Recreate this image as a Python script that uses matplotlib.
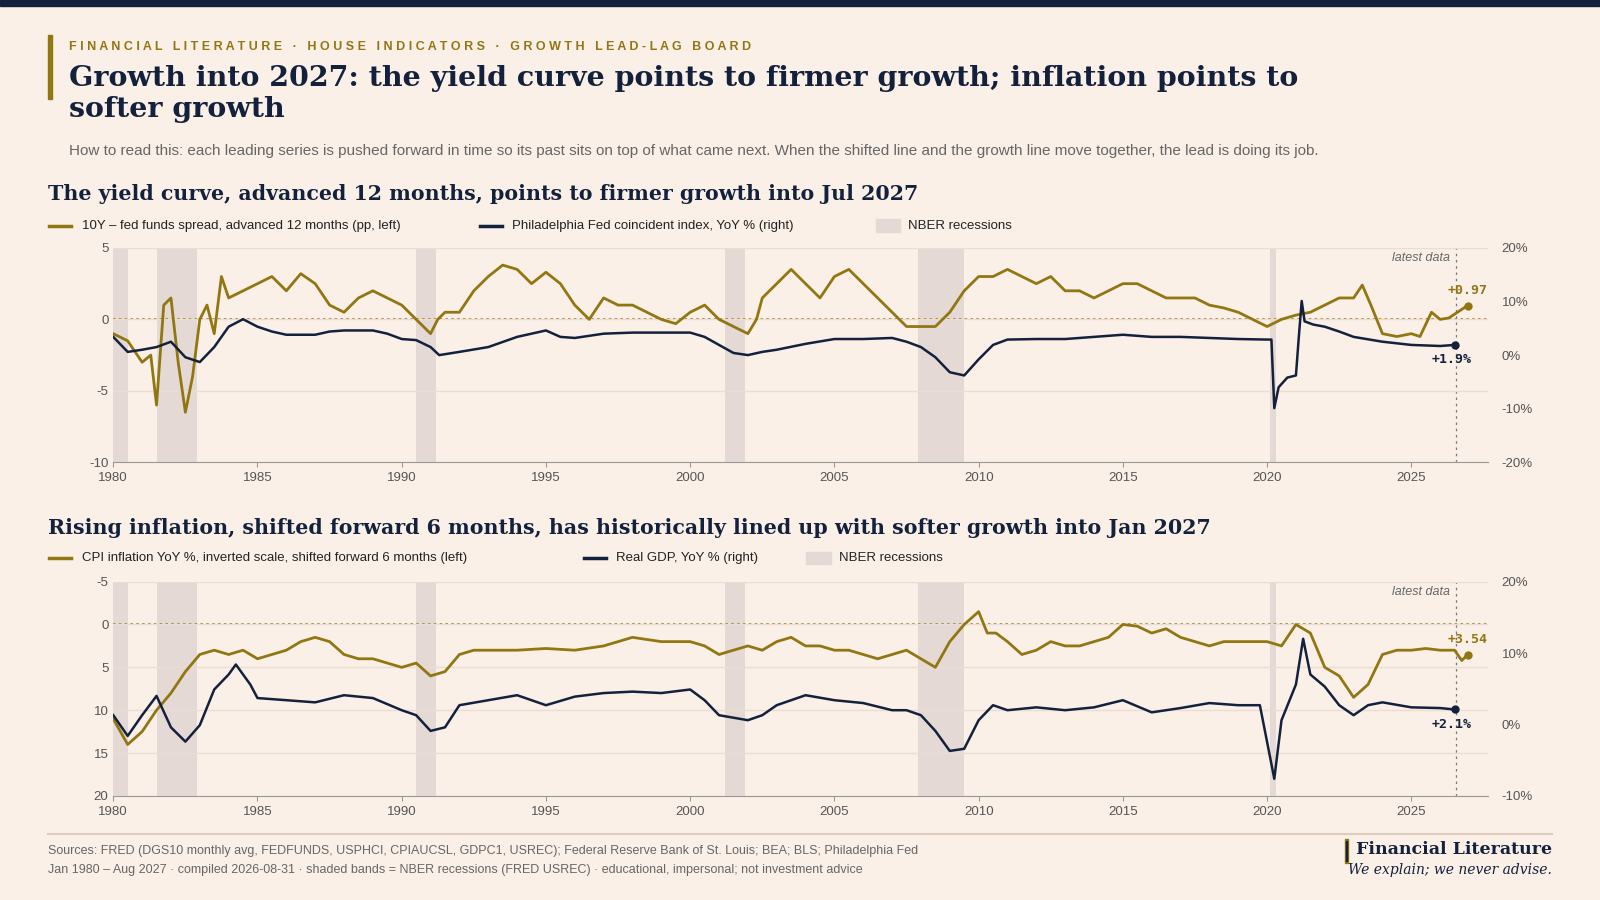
import matplotlib.pyplot as plt
from matplotlib.lines import Line2D
from matplotlib.patches import Rectangle

BG = "#faf0e8"
GOLD = "#927611"
NAVY = "#14213d"
GREY = "#555555"
REC = "#e4d9d4"

recessions = [(1980.0, 1980.5), (1981.5, 1982.9), (1990.5, 1991.2),
              (2001.2, 2001.9), (2007.9, 2009.5), (2020.1, 2020.3)]
latest = 2026.55

# top panel: 10Y - fed funds spread, advanced 12 months (pp)
spread_x = [1980, 1980.5, 1981, 1981.3, 1981.5, 1981.75, 1982, 1982.25, 1982.5, 1982.75,
            1983, 1983.25, 1983.5, 1983.75, 1984, 1984.5, 1985, 1985.5, 1986, 1986.5,
            1987, 1987.5, 1988, 1988.5, 1989, 1989.5, 1990, 1990.5, 1991, 1991.25,
            1991.5, 1992, 1992.5, 1993, 1993.5, 1994, 1994.5, 1995, 1995.5, 1996,
            1996.5, 1997, 1997.5, 1998, 1998.5, 1999, 1999.5, 2000, 2000.5, 2001,
            2001.5, 2002, 2002.3, 2002.5, 2003, 2003.5, 2004, 2004.5, 2005, 2005.5,
            2006, 2006.5, 2007, 2007.5, 2008, 2008.5, 2009, 2009.5, 2010, 2010.5,
            2011, 2011.5, 2012, 2012.5, 2013, 2013.5, 2014, 2014.5, 2015, 2015.5,
            2016, 2016.5, 2017, 2017.5, 2018, 2018.5, 2019, 2019.5, 2020, 2020.5,
            2021, 2021.5, 2022, 2022.5, 2023, 2023.3, 2023.6, 2024, 2024.5, 2025,
            2025.3, 2025.7, 2026, 2026.3, 2026.6, 2026.95]
spread = [-1.0, -1.5, -3.0, -2.5, -6.0, 1.0, 1.5, -3.0, -6.5, -4.0,
          0.0, 1.0, -1.0, 3.0, 1.5, 2.0, 2.5, 3.0, 2.0, 3.2,
          2.5, 1.0, 0.5, 1.5, 2.0, 1.5, 1.0, 0.0, -1.0, 0.0,
          0.5, 0.5, 2.0, 3.0, 3.8, 3.5, 2.5, 3.3, 2.5, 1.0,
          0.0, 1.5, 1.0, 1.0, 0.5, 0.0, -0.3, 0.5, 1.0, 0.0,
          -0.5, -1.0, 0.0, 1.5, 2.5, 3.5, 2.5, 1.5, 3.0, 3.5,
          2.5, 1.5, 0.5, -0.5, -0.5, -0.5, 0.5, 2.0, 3.0, 3.0,
          3.5, 3.0, 2.5, 3.0, 2.0, 2.0, 1.5, 2.0, 2.5, 2.5,
          2.0, 1.5, 1.5, 1.5, 1.0, 0.8, 0.5, 0.0, -0.5, 0.0,
          0.3, 0.5, 1.0, 1.5, 1.5, 2.4, 1.0, -1.0, -1.2, -1.0,
          -1.2, 0.5, 0.0, 0.1, 0.5, 0.97]

# top panel: Philadelphia Fed coincident index, YoY %
philly_x = [1980, 1980.5, 1981, 1981.5, 1982, 1982.5, 1983, 1983.5, 1984, 1984.5,
            1985, 1985.5, 1986, 1987, 1987.5, 1988, 1989, 1989.5, 1990, 1990.5,
            1991, 1991.3, 1992, 1993, 1994, 1995, 1995.5, 1996, 1997, 1998,
            1999, 2000, 2000.5, 2001, 2001.5, 2002, 2002.5, 2003, 2004, 2005,
            2006, 2007, 2007.5, 2008, 2008.5, 2009, 2009.5, 2010, 2010.5, 2011,
            2012, 2013, 2014, 2015, 2016, 2017, 2018, 2019, 2020, 2020.15,
            2020.25, 2020.4, 2020.7, 2021, 2021.1, 2021.2, 2021.3, 2021.6, 2022, 2022.5,
            2023, 2024, 2025, 2026, 2026.5]
philly = [3.4, 0.6, 1.0, 1.5, 2.5, -0.4, -1.3, 1.5, 5.3, 6.7,
          5.3, 4.4, 3.8, 3.8, 4.4, 4.6, 4.6, 4.0, 3.0, 2.8,
          1.5, 0.0, 0.6, 1.5, 3.4, 4.6, 3.4, 3.2, 4.0, 4.2,
          4.2, 4.2, 3.4, 1.9, 0.4, 0.0, 0.6, 1.0, 2.1, 3.0,
          3.0, 3.2, 2.5, 1.5, -0.4, -3.2, -3.8, -0.8, 1.9, 2.9,
          3.0, 3.0, 3.4, 3.8, 3.4, 3.4, 3.2, 3.0, 2.9, 2.9,
          -9.9, -6.0, -4.2, -3.8, 3.4, 10.1, 6.3, 5.7, 5.3, 4.4,
          3.4, 2.5, 1.9, 1.7, 1.9]

# bottom panel: CPI inflation YoY %, shifted forward 6 months
cpi_x = [1980, 1980.5, 1981, 1981.5, 1982, 1982.5, 1983, 1983.5, 1984, 1984.5,
         1985, 1985.5, 1986, 1986.5, 1987, 1987.5, 1988, 1988.5, 1989, 1989.5,
         1990, 1990.5, 1991, 1991.5, 1992, 1992.5, 1993, 1994, 1995, 1996,
         1997, 1998, 1999, 2000, 2000.5, 2001, 2001.5, 2002, 2002.5, 2003,
         2003.5, 2004, 2004.5, 2005, 2005.5, 2006, 2006.5, 2007, 2007.5, 2008,
         2008.5, 2009, 2009.5, 2010, 2010.3, 2010.6, 2011, 2011.5, 2012, 2012.5,
         2013, 2013.5, 2014, 2014.5, 2015, 2015.5, 2016, 2016.5, 2017, 2017.5,
         2018, 2018.5, 2019, 2019.5, 2020, 2020.5, 2021, 2021.5, 2022, 2022.5,
         2023, 2023.5, 2024, 2024.5, 2025, 2025.5, 2026, 2026.5, 2026.75, 2026.95]
cpi = [11.0, 14.0, 12.5, 10.0, 8.0, 5.5, 3.5, 3.0, 3.5, 3.0,
       4.0, 3.5, 3.0, 2.0, 1.5, 2.0, 3.5, 4.0, 4.0, 4.5,
       5.0, 4.5, 6.0, 5.5, 3.5, 3.0, 3.0, 3.0, 2.8, 3.0,
       2.5, 1.5, 2.0, 2.0, 2.5, 3.5, 3.0, 2.5, 3.0, 2.0,
       1.5, 2.5, 2.5, 3.0, 3.0, 3.5, 4.0, 3.5, 3.0, 4.0,
       5.0, 2.0, 0.0, -1.5, 1.0, 1.0, 2.0, 3.5, 3.0, 2.0,
       2.5, 2.5, 2.0, 1.5, 0.0, 0.2, 1.0, 0.5, 1.5, 2.0,
       2.5, 2.0, 2.0, 2.0, 2.0, 2.5, 0.0, 1.0, 5.0, 6.0,
       8.5, 7.0, 3.5, 3.0, 3.0, 2.8, 3.0, 3.0, 4.2, 3.54]

# bottom panel: real GDP, YoY %
gdp_x = [1980, 1980.5, 1981, 1981.5, 1982, 1982.5, 1983, 1983.5, 1984, 1984.25,
         1984.75, 1985, 1986, 1987, 1988, 1989, 1990, 1990.5, 1991, 1991.5,
         1992, 1993, 1994, 1995, 1996, 1997, 1998, 1999, 2000, 2000.5,
         2001, 2002, 2002.5, 2003, 2004, 2005, 2006, 2007, 2007.5, 2008,
         2008.5, 2009, 2009.5, 2010, 2010.5, 2011, 2012, 2013, 2014, 2015,
         2016, 2017, 2018, 2019, 2019.75, 2020.25, 2020.5, 2021, 2021.25, 2021.5,
         2022, 2022.5, 2023, 2023.5, 2024, 2025, 2026, 2026.5]
gdp = [1.3, -1.6, 1.3, 4.0, -0.4, -2.4, -0.1, 4.9, 7.0, 8.4,
       5.6, 3.7, 3.4, 3.1, 4.1, 3.7, 2.0, 1.3, -0.9, -0.4,
       2.7, 3.4, 4.1, 2.7, 3.9, 4.4, 4.6, 4.4, 4.9, 3.4,
       1.3, 0.6, 1.3, 2.7, 4.1, 3.4, 3.0, 2.0, 2.0, 1.3,
       -0.9, -3.7, -3.4, 0.6, 2.7, 2.0, 2.4, 2.0, 2.4, 3.4,
       1.7, 2.3, 3.0, 2.7, 2.7, -7.6, 0.6, 5.6, 12.0, 7.0,
       5.3, 2.7, 1.3, 2.7, 3.1, 2.4, 2.3, 2.1]

years = [1980, 1985, 1990, 1995, 2000, 2005, 2010, 2015, 2020, 2025]

plt.rcParams["font.family"] = ["Liberation Sans", "DejaVu Sans"]
fig = plt.figure(figsize=(16, 9), dpi=100, facecolor=BG)
W, H = 1568, 882


def fx(px):
    return px / W


def fy(py):
    return 1 - py / H


fig.add_artist(Rectangle((0, fy(6)), 1, 6 / H, transform=fig.transFigure, color=NAVY))
fig.add_artist(Rectangle((fx(47), fy(97)), 4 / W, 63 / H, transform=fig.transFigure, color=GOLD))
fig.text(fx(68), fy(46), "F I N A N C I A L   L I T E R A T U R E   ·   H O U S E   I N D I C A T O R S   ·   "
         "G R O W T H   L E A D - L A G   B O A R D",
         color=GOLD, fontsize=9, fontweight="bold", va="center")
fig.text(fx(68), fy(92), "Growth into 2027: the yield curve points to firmer growth; inflation points to\nsofter growth",
         color=NAVY, fontsize=20.5, fontweight="bold", family="DejaVu Serif", va="center",
         linespacing=1.2)
fig.text(fx(68), fy(148), "How to read this: each leading series is pushed forward in time so its past sits on top of "
         "what came next. When the shifted line and the growth line move together, the lead is doing its job.",
         color="#666666", fontsize=11, va="center")


def legend(y, items):
    for kind, x0, label in items:
        if kind == "patch":
            fig.add_artist(Rectangle((fx(x0), fy(y + 6)), 24 / W, 12 / H,
                                     transform=fig.transFigure, color=REC))
        else:
            fig.add_artist(Line2D([fx(x0), fx(x0 + 22)], [fy(y), fy(y)],
                                  transform=fig.transFigure, color=kind, lw=2.5))
        fig.text(fx(x0 + 32), fy(y), label, fontsize=9.5, color="#222222", va="center")


def panel(top, bottom, title, ty, ly, leg, lx, ly_data, rx, ry_data, lylim, rylim, lticks,
          lticklabels, rticks, rticklabels, inverted, llab, rlab):
    fig.text(fx(47), fy(ty), title, color=NAVY, fontsize=14.8, fontweight="bold",
             family="DejaVu Serif", va="center")
    legend(ly, leg)
    ax = fig.add_axes([fx(111), fy(bottom), fx(1458) - fx(111), fy(top) - fy(bottom)])
    ax.set_facecolor(BG)
    for a, b in recessions:
        ax.axvspan(a, b, color=REC, lw=0, zorder=0)
    ax.set_xlim(1980, 2027.65)
    ax.set_ylim(*lylim)
    ax.set_yticks(lticks)
    ax.set_yticklabels(lticklabels)
    ax.grid(axis="y", color="#ecdcd2", lw=1, zorder=0)
    ax.axhline(0, color=GOLD, lw=1.2, ls=(0, (1.5, 2)), zorder=1)
    ax.axvline(latest, color="#777777", lw=0.9, ls=(0, (2, 3)), zorder=1)
    ax.text(latest - 0.2, lylim[1] - (lylim[1] - lylim[0]) * 0.02, "latest data",
            style="italic", fontsize=9, color="#666666", ha="right", va="top")
    ax.plot(lx, ly_data, color=GOLD, lw=2, zorder=3)
    ax.plot(lx[-1], ly_data[-1], "o", color=GOLD, ms=5, zorder=4)
    ax.annotate(llab, (lx[-1], ly_data[-1]), xytext=(0, 6), textcoords="offset points",
                ha="center", va="bottom", color=GOLD, fontsize=9.5,
                fontweight="bold", family="DejaVu Sans Mono")
    ax.set_xticks(years)
    for s in ["top", "right", "left"]:
        ax.spines[s].set_visible(False)
    ax.spines["bottom"].set_color("#999999")
    ax.tick_params(axis="y", length=0, labelcolor=GREY, labelsize=9.5)
    ax.tick_params(axis="x", color="#999999", labelcolor=GREY, labelsize=9.5)
    ax2 = ax.twinx()
    ax2.set_ylim(*rylim)
    ax2.plot(rx, ry_data, color=NAVY, lw=1.8, zorder=3)
    ax2.plot(rx[-1], ry_data[-1], "o", color=NAVY, ms=5, zorder=4)
    ax2.annotate(rlab, (rx[-1], ry_data[-1]), xytext=(-2, -13), textcoords="offset points",
                 ha="center", color=NAVY, fontsize=9.5, fontweight="bold",
                 family="DejaVu Sans Mono")
    ax2.set_yticks(rticks)
    ax2.set_yticklabels(rticklabels)
    for s in ax2.spines.values():
        s.set_visible(False)
    ax2.tick_params(axis="y", length=0, labelcolor=GREY, labelsize=9.5, pad=10)
    return ax


panel(243, 453, "The yield curve, advanced 12 months, points to firmer growth into Jul 2027", 190, 221,
      [(GOLD, 48, "10Y – fed funds spread, advanced 12 months (pp, left)"),
       (NAVY, 470, "Philadelphia Fed coincident index, YoY % (right)"),
       ("patch", 858, "NBER recessions")],
      spread_x, spread, philly_x, philly, (-10, 5), (-20, 20),
      [-10, -5, 0, 5], ["-10", "-5", "0", "5"], [-20, -10, 0, 10, 20],
      ["-20%", "-10%", "0%", "10%", "20%"], False, "+0.97", "+1.9%")

panel(570, 780, "Rising inflation, shifted forward 6 months, has historically lined up with softer growth into Jan 2027",
      517, 547,
      [(GOLD, 48, "CPI inflation YoY %, inverted scale, shifted forward 6 months (left)"),
       (NAVY, 572, "Real GDP, YoY % (right)"),
       ("patch", 790, "NBER recessions")],
      cpi_x, cpi, gdp_x, gdp, (20, -5), (-10, 20),
      [20, 15, 10, 5, 0, -5], ["20", "15", "10", "5", "0", "-5"], [-10, 0, 10, 20],
      ["-10%", "0%", "10%", "20%"], True, "+3.54", "+2.1%")

fig.add_artist(Line2D([fx(47), fx(1521)], [fy(817), fy(817)], transform=fig.transFigure,
                      color="#e0cbbf", lw=1.5))
fig.text(fx(47), fy(834), "Sources: FRED (DGS10 monthly avg, FEDFUNDS, USPHCI, CPIAUCSL, GDPC1, USREC); "
         "Federal Reserve Bank of St. Louis; BEA; BLS; Philadelphia Fed", fontsize=9, color="#666666", va="center")
fig.text(fx(47), fy(853), "Jan 1980 – Aug 2027 · compiled 2026-08-31 · shaded bands = NBER recessions (FRED USREC) · "
         "educational, impersonal; not investment advice", fontsize=9, color="#666666", va="center")
fig.add_artist(Rectangle((fx(1318), fy(846)), 3 / W, 24 / H, transform=fig.transFigure, color=GOLD))
fig.add_artist(Rectangle((fx(1319), fy(844)), 1.2 / W, 20 / H, transform=fig.transFigure, color=NAVY))
fig.text(fx(1521), fy(833), "Financial Literature", fontsize=12.5, fontweight="bold", family="DejaVu Serif",
         color=NAVY, ha="right", va="center")
fig.text(fx(1521), fy(853), "We explain; we never advise.", fontsize=10, style="italic", family="DejaVu Serif",
         color=NAVY, ha="right", va="center")

fig.savefig("out.png", dpi=100, facecolor=BG)
